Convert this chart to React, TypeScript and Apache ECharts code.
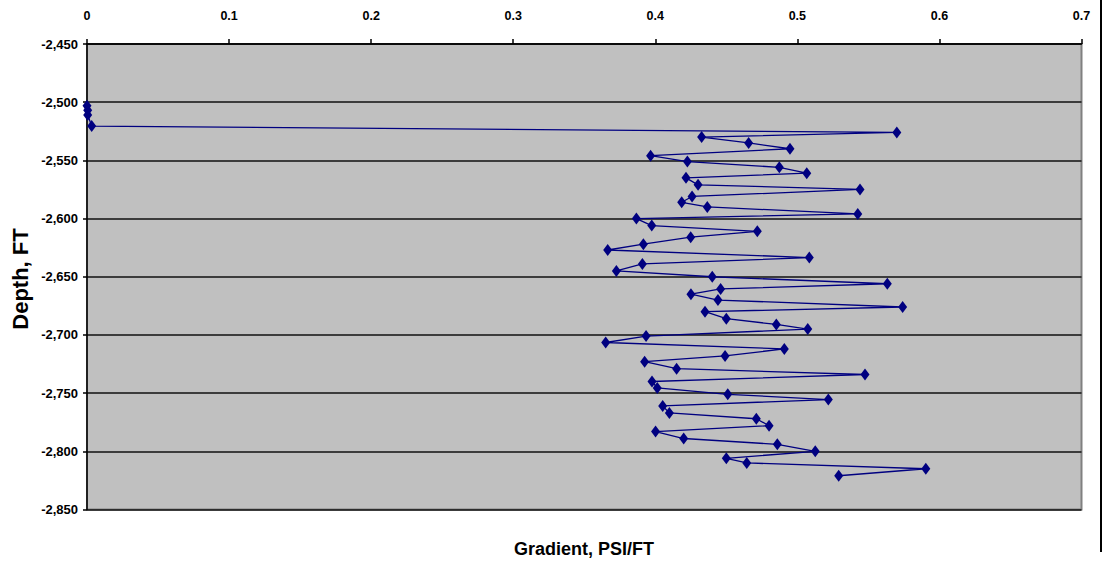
import React, { useEffect, useRef } from "react";
import * as echarts from "echarts";

const depthFt: number[] = [
  -2503, -2507, -2511, -2520.5, -2526, -2530, -2535, -2540, -2546, -2551,
  -2556, -2561, -2565, -2571, -2575, -2581, -2586, -2590, -2596, -2600,
  -2606, -2611, -2616, -2622, -2627, -2633.5, -2639, -2645, -2650, -2656,
  -2660.5, -2665, -2670, -2676, -2680, -2686, -2691, -2695, -2701, -2706.5,
  -2712, -2718, -2723, -2729, -2734, -2740, -2745.5, -2751, -2755.5, -2761,
  -2767, -2772, -2778, -2783, -2789, -2794, -2800, -2806, -2810, -2815, -2821,
];

const gradientPsiFt: number[] = [
  0, 0.0005, 0.0005, 0.0033, 0.57, 0.4326, 0.4657, 0.4948, 0.3967, 0.4226,
  0.4873, 0.5066, 0.4216, 0.4301, 0.5441, 0.4259, 0.4186, 0.4366, 0.5425, 0.3867,
  0.3975, 0.4718, 0.4249, 0.3916, 0.3665, 0.5084, 0.3909, 0.3726, 0.4401, 0.5633,
  0.446, 0.4251, 0.4441, 0.5741, 0.435, 0.45, 0.4852, 0.5073, 0.3935, 0.3651,
  0.4908, 0.4491, 0.3925, 0.415, 0.5476, 0.3977, 0.4014, 0.451, 0.5218, 0.4052,
  0.4099, 0.4711, 0.4801, 0.4002, 0.42, 0.4859, 0.5126, 0.45, 0.4644, 0.5904, 0.5291,
];

const xTitle = "Gradient, PSI/FT";
const yTitle = "Depth, FT";

const FONT = "'Liberation Sans', Arial, Helvetica, sans-serif";

export default function App() {
  const ref = useRef<HTMLDivElement>(null);

  useEffect(() => {
    if (!ref.current) return;
    const chart = echarts.init(ref.current, undefined, { renderer: "svg" });
    const data = depthFt.map((d, i) => [gradientPsiFt[i], d]);
    chart.setOption({
      animation: false,
      backgroundColor: "#ffffff",
      grid: {
        left: 87,
        top: 44,
        right: 21.5,
        bottom: 61.5,
        show: true,
        backgroundColor: "#C0C0C0",
        borderColor: "#808080",
        borderWidth: 2,
      },
      xAxis: {
        type: "value",
        position: "top",
        min: 0,
        max: 0.7,
        interval: 0.1,
        axisLine: { show: true, onZero: false, lineStyle: { color: "#000", width: 1.5 } },
        axisTick: { show: true, length: 5, lineStyle: { color: "#000", width: 1.5 } },
        splitLine: { show: false },
        axisLabel: {
          margin: 22,
          color: "#000",
          fontFamily: FONT,
          fontWeight: "bold",
          fontSize: 12.5,
          formatter: (v: number) => (v === 0 ? "0" : v.toFixed(1)),
        },
      },
      yAxis: {
        type: "value",
        min: -2850,
        max: -2450,
        interval: 50,
        axisLine: { show: true, onZero: false, lineStyle: { color: "#000", width: 1.5 } },
        axisTick: { show: true, length: 4, lineStyle: { color: "#000", width: 1.5 } },
        splitLine: { show: true, lineStyle: { color: "#111", width: 1.6 } },
        axisLabel: {
          margin: 9,
          color: "#000",
          fontFamily: FONT,
          fontWeight: "bold",
          fontSize: 13,
          formatter: (v: number) => {
            const s = Math.abs(v).toLocaleString("en-US");
            return (v < 0 ? "-" : "") + s;
          },
        },
      },
      series: [
        {
          type: "line",
          data,
          showSymbol: true,
          symbol: "diamond",
          symbolSize: [9, 12],
          itemStyle: { color: "#000080" },
          lineStyle: { color: "#000080", width: 1.3 },
          z: 5,
        },
      ],
      graphic: [
        {
          type: "text",
          x: 584,
          y: 549,
          style: {
            text: xTitle,
            fontFamily: FONT,
            fontWeight: "bold",
            fontSize: 18,
            fill: "#000",
            align: "center",
            verticalAlign: "middle",
          },
        },
        {
          type: "text",
          x: 20,
          y: 279,
          rotation: Math.PI / 2,
          style: {
            text: yTitle,
            fontFamily: FONT,
            fontWeight: "bold",
            fontSize: 22,
            fill: "#000",
            align: "center",
            verticalAlign: "middle",
          },
        },
        {
          type: "line",
          shape: { x1: 1101, y1: 0, x2: 1101, y2: 552 },
          style: { stroke: "#000", lineWidth: 2 },
        },
      ],
    });
    return () => chart.dispose();
  }, []);

  return (
    <div
      ref={ref}
      style={{ position: "absolute", left: 0, top: 0, width: 1103, height: 571 }}
    />
  );
}
